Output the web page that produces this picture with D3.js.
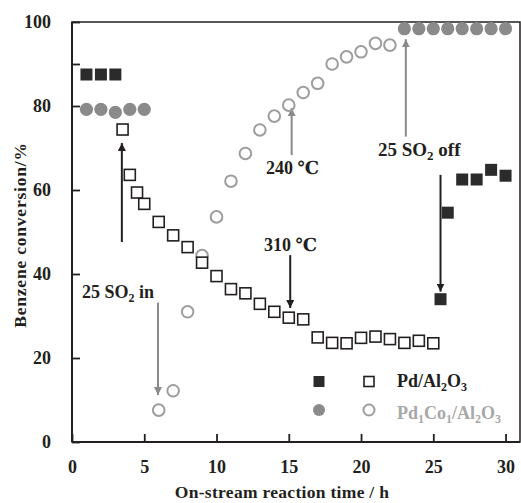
<!DOCTYPE html>
<html>
<head>
<meta charset="utf-8">
<script src="https://cdn.jsdelivr.net/npm/d3@7"></script>
<style>
  body { margin: 0; background: #fff; }
  text { font-family: "Liberation Serif", "DejaVu Serif", serif; font-weight: bold; }
</style>
</head>
<body>
<svg id="chart" width="521" height="503"></svg>
<script>
// Pd/Al2O3, filled squares (no SO2)
var pdFilledX = [1, 2, 3, 25.5, 26, 27, 28, 29, 30];
var pdFilledY = [87.5, 87.5, 87.5, 34, 54.6, 62.5, 62.5, 64.8, 63.4];
// Pd/Al2O3, open squares (SO2 in)
var pdOpenX = [3.5, 4, 4.5, 5, 6, 7, 8, 9, 10, 11, 12, 13, 14, 15, 16, 17, 18, 19, 20, 21, 22, 23, 24, 25];
var pdOpenY = [74.4, 63.6, 59.4, 56.7, 52.4, 49.2, 46.4, 42.7, 39.5, 36.4, 35.4, 32.9, 31, 29.6, 29.2, 24.9, 23.6, 23.5, 24.8, 25.1, 24.5, 23.6, 24.1, 23.5];
// Pd1Co1/Al2O3, filled circles
var coFilledX = [1, 2, 3, 4, 5, 23, 24, 25, 26, 27, 28, 29, 30];
var coFilledY = [79.2, 79.2, 78.5, 79.2, 79.2, 98.4, 98.4, 98.4, 98.4, 98.4, 98.4, 98.4, 98.4];
// Pd1Co1/Al2O3, open circles
var coOpenX = [6, 7, 8, 9, 10, 11, 12, 13, 14, 15, 16, 17, 18, 19, 20, 21, 22];
var coOpenY = [7.6, 12.2, 31, 44.4, 53.6, 62.1, 68.7, 74.3, 77.6, 80.2, 83.2, 85.4, 90, 91.7, 92.9, 94.9, 94.5];

var xTicks = [0, 5, 10, 15, 20, 25, 30];
var yTicks = [0, 20, 40, 60, 80, 90, 100];

// arrows: x, from, to (tip)
var arrowX = [3.45, 5.95, 15.2, 15.1, 23.1, 25.5];
var arrowFrom = [47.6, 33.2, 68.3, 44.5, 72.7, 63.6];
var arrowTo = [71.2, 11.2, 79.5, 31.9, 95.9, 35.8];
var arrowDark = [true, false, false, true, false, true];

var svg = d3.select("#chart");
var dark = "#231f20", grey = "#8a8a8a", lightGrey = "#9d9d9d";

var x = d3.scaleLinear().domain([0, 31]).range([72, 520]);
var y = d3.scaleLinear().domain([0, 100]).range([442, 22]);

// frame
svg.append("rect")
    .attr("x", x(0)).attr("y", y(100))
    .attr("width", x(31) - x(0)).attr("height", y(0) - y(100))
    .attr("fill", "none").attr("stroke", dark).attr("stroke-width", 1.5);
svg.append("line")
    .attr("x1", x(0)).attr("x2", x(31)).attr("y1", y(0)).attr("y2", y(0))
    .attr("stroke", dark).attr("stroke-width", 2);
svg.append("line")
    .attr("x1", x(0)).attr("x2", x(0)).attr("y1", y(0)).attr("y2", y(100))
    .attr("stroke", dark).attr("stroke-width", 2);

//axes with inward ticks
var xAxis = d3.axisBottom(x).tickValues(xTicks).tickSize(-8).tickPadding(18);
var gx = svg.append("g").attr("transform", "translate(0," + y(0) + ")").call(xAxis);
var yAxis = d3.axisLeft(y).tickValues(yTicks).tickSize(-8).tickPadding(21)
    .tickFormat(function(d) { return d % 20 == 0 ? d : ""; });
var gy = svg.append("g").attr("transform", "translate(" + x(0) + ",0)").call(yAxis);
[gx, gy].forEach(function(g) {
  g.select(".domain").remove();
  g.selectAll(".tick line").attr("stroke", dark).attr("stroke-width", 1.8);
  g.selectAll(".tick text")
      .attr("fill", dark)
      .style("font-size", "18px")
      .style("font-family", "Liberation Serif, serif")
      .style("font-weight", "bold");
});

// axis titles
svg.append("text")
    .attr("x", 282).attr("y", 498)
    .attr("text-anchor", "middle")
    .attr("fill", dark)
    .style("font-size", "17.5px")
    .style("letter-spacing", "0.3px")
    .text("On-stream reaction time / h");
svg.append("text")
    .attr("transform", "translate(26,235) rotate(-90)")
    .attr("text-anchor", "middle")
    .attr("fill", dark)
    .style("font-size", "17.5px")
    .style("letter-spacing", "0.8px")
    .text("Benzene conversion/%");

// arrows
svg.append("defs").selectAll("marker")
    .data([["headDark", dark], ["headGrey", grey]])
    .enter().append("marker")
    .attr("id", function(d) { return d[0]; })
    .attr("viewBox", "0 0 10 10")
    .attr("refX", 10).attr("refY", 5)
    .attr("markerWidth", 8).attr("markerHeight", 8)
    .attr("markerUnits", "userSpaceOnUse")
    .attr("orient", "auto")
    .append("path")
    .attr("d", "M0,0 L10,5 L0,10 Z")
    .attr("fill", function(d) { return d[1]; });

svg.selectAll(".arrow")
    .data(d3.range(arrowX.length))
    .enter().append("line")
    .attr("class", "arrow")
    .attr("x1", function(i) { return x(arrowX[i]); })
    .attr("x2", function(i) { return x(arrowX[i]); })
    .attr("y1", function(i) { return y(arrowFrom[i]); })
    .attr("y2", function(i) { return y(arrowTo[i]); })
    .attr("stroke", function(i) { return arrowDark[i] ? dark : grey; })
    .attr("stroke-width", 2)
    .attr("marker-end", function(i) { return arrowDark[i] ? "url(#headDark)" : "url(#headGrey)"; });

// annotation text with subscripts
function label(parts, px, py, color, size) {
  var fs = size || 18;
  var t = svg.append("text")
      .attr("x", px).attr("y", py)
      .attr("fill", color)
      .style("font-size", fs + "px");
  parts.forEach(function(p) {
    var ts = t.append("tspan").text(p[0]);
    if (p[1]) ts.style("font-size", Math.round(fs * 0.68) + "px").attr("dy", 4);
    else if (p[2]) ts.attr("dy", -4);
  });
  return t;
}
label([["25 SO"], ["2", true], [" in", false, true]], 82, 298, dark);
label([["240 ℃"]], 266, 174, dark);
label([["310 ℃"]], 264, 251, dark);
label([["25 SO"], ["2", true], [" off", false, true]], 378, 156, dark, 19);

// data points
function squares(xs, ys, filled) {
  svg.append("g").selectAll("rect")
      .data(xs.map(function(d, i) { return [d, ys[i]]; }))
      .enter().append("rect")
      .attr("x", function(d) { return x(d[0]) - (filled ? 6 : 5.5); })
      .attr("y", function(d) { return y(d[1]) - (filled ? 6 : 5.5); })
      .attr("width", filled ? 12 : 11)
      .attr("height", filled ? 12 : 11)
      .attr("fill", filled ? "#2b2b2b" : "#fff")
      .attr("stroke", filled ? "none" : dark)
      .attr("stroke-width", 1.6);
}
function circles(xs, ys, filled) {
  svg.append("g").selectAll("circle")
      .data(xs.map(function(d, i) { return [d, ys[i]]; }))
      .enter().append("circle")
      .attr("cx", function(d) { return x(d[0]); })
      .attr("cy", function(d) { return y(d[1]); })
      .attr("r", filled ? 6.6 : 5.8)
      .attr("fill", filled ? grey : "none")
      .attr("stroke", filled ? "none" : lightGrey)
      .attr("stroke-width", 2);
}
circles(coOpenX, coOpenY, false);
squares(pdOpenX, pdOpenY, false);
squares(pdFilledX, pdFilledY, true);
circles(coFilledX, coFilledY, true);

// legend
var leg = svg.append("g");
leg.append("rect").attr("x", 313.5).attr("y", 376).attr("width", 11).attr("height", 11).attr("fill", "#2b2b2b");
leg.append("rect").attr("x", 364).attr("y", 376.5).attr("width", 10).attr("height", 10)
    .attr("fill", "#fff").attr("stroke", dark).attr("stroke-width", 1.6);
leg.append("circle").attr("cx", 319).attr("cy", 410).attr("r", 6).attr("fill", grey);
leg.append("circle").attr("cx", 369).attr("cy", 410).attr("r", 5.5).attr("fill", "none")
    .attr("stroke", lightGrey).attr("stroke-width", 2);
label([["Pd/Al"], ["2", true], ["O", false, true], ["3", true]], 397, 387, dark, 18);
label([["Pd"], ["1", true], ["Co", false, true], ["1", true], ["/Al", false, true], ["2", true], ["O", false, true], ["3", true]], 397, 419, "#a8a8a8", 18);
</script>
</body>
</html>
